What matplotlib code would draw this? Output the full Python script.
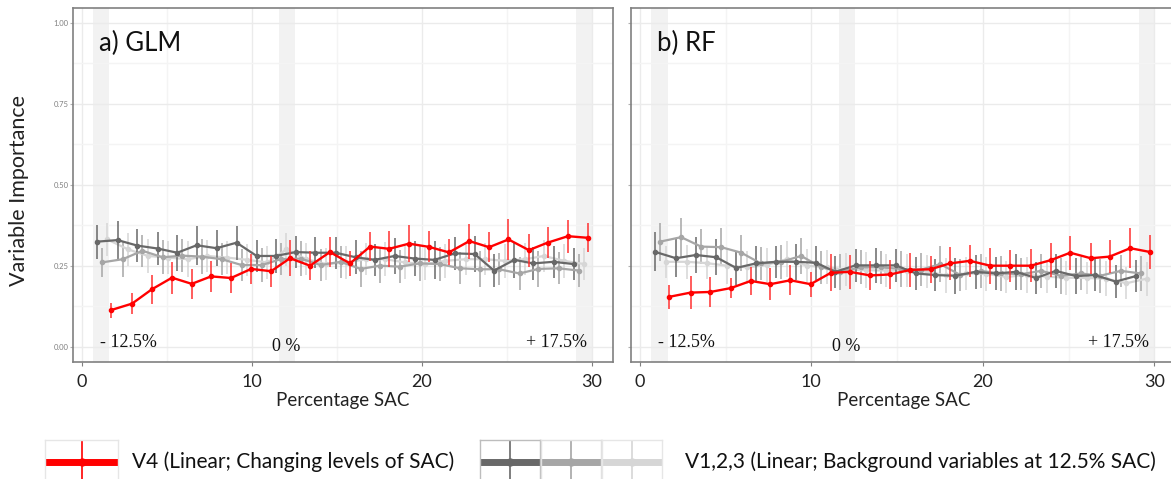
import matplotlib
matplotlib.use("Agg")
import matplotlib.pyplot as plt
import numpy as np

# SAC level of the changing variable (x of the red points)
sac = [1.72, 2.96, 4.12, 5.31, 6.47, 7.61, 8.78, 9.96, 11.14, 12.25, 13.43, 14.60, 15.78,
       16.96, 18.08, 19.25, 20.43, 21.60, 22.80, 23.96, 25.10, 26.30, 27.40, 28.60, 29.78]

# a) GLM
glm_v4 = [0.113, 0.133, 0.177, 0.213, 0.194, 0.217, 0.212, 0.240, 0.233, 0.273, 0.250, 0.292, 0.257,
          0.309, 0.302, 0.318, 0.308, 0.291, 0.326, 0.307, 0.331, 0.298, 0.321, 0.341, 0.336]
glm_v4_err = [0.023, 0.032, 0.044, 0.049, 0.046, 0.048, 0.045, 0.046, 0.048, 0.056, 0.045, 0.045, 0.039,
              0.045, 0.055, 0.058, 0.048, 0.040, 0.054, 0.047, 0.062, 0.051, 0.048, 0.051, 0.045]
glm_v1 = [0.324, 0.329, 0.312, 0.303, 0.290, 0.313, 0.304, 0.321, 0.280, 0.280, 0.292, 0.290, 0.290,
          0.276, 0.268, 0.280, 0.272, 0.268, 0.288, 0.286, 0.235, 0.268, 0.257, 0.262, 0.255]
glm_v2 = [0.260, 0.270, 0.296, 0.276, 0.281, 0.278, 0.270, 0.252, 0.252, 0.270, 0.272, 0.252, 0.262,
          0.240, 0.250, 0.247, 0.257, 0.255, 0.242, 0.239, 0.239, 0.226, 0.240, 0.242, 0.235]
glm_v3 = [0.331, 0.300, 0.280, 0.275, 0.270, 0.280, 0.275, 0.268, 0.260, 0.300, 0.270, 0.255, 0.260,
          0.270, 0.270, 0.260, 0.255, 0.265, 0.270, 0.270, 0.265, 0.270, 0.280, 0.265, 0.255]
glm_v1_err = [0.052, 0.058, 0.050, 0.052, 0.055, 0.060, 0.055, 0.052, 0.050, 0.052, 0.050, 0.048, 0.050,
              0.052, 0.050, 0.055, 0.055, 0.058, 0.050, 0.055, 0.050, 0.055, 0.052, 0.050, 0.050]
glm_v2_err = [0.045, 0.055, 0.050, 0.052, 0.050, 0.055, 0.050, 0.048, 0.052, 0.050, 0.055, 0.050, 0.050,
              0.055, 0.052, 0.050, 0.055, 0.052, 0.050, 0.055, 0.050, 0.052, 0.055, 0.050, 0.052]
glm_v3_err = [0.050, 0.050, 0.052, 0.050, 0.055, 0.050, 0.052, 0.050, 0.050, 0.052, 0.050, 0.050, 0.052,
              0.050, 0.052, 0.050, 0.050, 0.052, 0.050, 0.050, 0.052, 0.050, 0.050, 0.052, 0.050]

# b) RF
rf_v4 = [0.154, 0.167, 0.169, 0.181, 0.203, 0.193, 0.205, 0.193, 0.228, 0.231, 0.220, 0.223, 0.237,
         0.239, 0.257, 0.265, 0.250, 0.250, 0.250, 0.267, 0.290, 0.273, 0.278, 0.304, 0.292]
rf_v4_err = [0.037, 0.052, 0.046, 0.031, 0.044, 0.049, 0.046, 0.039, 0.057, 0.053, 0.046, 0.046, 0.052,
             0.042, 0.050, 0.050, 0.055, 0.049, 0.051, 0.052, 0.052, 0.048, 0.050, 0.061, 0.053]
rf_v1 = [0.293, 0.273, 0.283, 0.276, 0.243, 0.257, 0.262, 0.262, 0.259, 0.231, 0.251, 0.251, 0.251,
         0.226, 0.221, 0.219, 0.231, 0.226, 0.231, 0.212, 0.234, 0.218, 0.221, 0.201, 0.218]
rf_v2 = [0.324, 0.338, 0.309, 0.307, 0.290, 0.257, 0.262, 0.280, 0.245, 0.231, 0.245, 0.245, 0.240,
         0.238, 0.255, 0.221, 0.234, 0.226, 0.224, 0.234, 0.219, 0.226, 0.219, 0.234, 0.226]
rf_v3 = [0.262, 0.262, 0.258, 0.250, 0.245, 0.252, 0.270, 0.250, 0.245, 0.238, 0.236, 0.235, 0.235,
         0.232, 0.220, 0.226, 0.225, 0.215, 0.222, 0.216, 0.213, 0.212, 0.210, 0.196, 0.210]
rf_v1_err = [0.060, 0.058, 0.055, 0.055, 0.052, 0.055, 0.050, 0.055, 0.052, 0.050, 0.052, 0.055, 0.050,
             0.052, 0.050, 0.055, 0.052, 0.050, 0.055, 0.050, 0.052, 0.055, 0.050, 0.052, 0.050]
rf_v2_err = [0.058, 0.060, 0.055, 0.058, 0.055, 0.050, 0.052, 0.055, 0.050, 0.055, 0.052, 0.050, 0.055,
             0.052, 0.055, 0.050, 0.052, 0.055, 0.050, 0.052, 0.055, 0.050, 0.052, 0.050, 0.055]
rf_v3_err = [0.050, 0.052, 0.050, 0.055, 0.050, 0.052, 0.055, 0.050, 0.052, 0.050, 0.055, 0.050, 0.052,
             0.050, 0.055, 0.050, 0.052, 0.050, 0.055, 0.050, 0.052, 0.050, 0.055, 0.050, 0.052]

band_labels = ["- 12.5%", "0 %", "+ 17.5%"]
bands = [(0.68, 1.62), (11.6, 12.55), (29.1, 30.05)]

RED = "#ff0000"
GREYS = ["#686868", "#a6a6a6", "#d6d6d6"]
OFFS = [-0.85, -0.55, -0.22]   # dodge of the background variables

SANS = ["Lato", "DejaVu Sans"]
plt.rcParams["font.family"] = SANS

fig = plt.figure(figsize=(11.71, 4.79), dpi=100)


def panel(rect, title, v4, v4e, bg, bge, ylabels):
    ax = fig.add_axes(rect)
    ax.set_xlim(-0.53, 31.25)
    ax.set_ylim(-0.047, 1.044)
    ax.set_xticks([0, 10, 20, 30])
    ax.set_xticks([5, 15, 25], minor=True)
    ax.set_yticks([0, 0.25, 0.5, 0.75, 1.0])
    ax.set_yticks([0.125, 0.375, 0.625, 0.875], minor=True)
    ax.grid(True, which="major", color="#ebebeb", lw=1.0, zorder=0)
    ax.grid(True, which="minor", color="#f4f4f4", lw=1.0, zorder=0)
    ax.set_axisbelow(True)
    for s in ax.spines.values():
        s.set_color("#808080")
        s.set_linewidth(1.2)
    ax.tick_params(axis="x", which="major", length=3, color="#808080", labelsize=13,
                   labelcolor="#222222", pad=6)
    ax.tick_params(axis="y", which="major", length=2, color="#b0b0b0", labelsize=5.5,
                   labelcolor="#808080", pad=1)
    ax.tick_params(which="minor", length=0)
    if ylabels:
        ax.set_yticklabels(["0.00", "0.25", "0.50", "0.75", "1.00"])
    else:
        ax.set_yticklabels([])
    for lo, hi in bands:
        ax.axvspan(lo, hi, color="#f2f2f2", lw=0, zorder=0.5)

    x = np.array(sac)
    for i, (vals, errs, col, off) in enumerate(zip(bg, bge, GREYS, OFFS)):
        ax.errorbar(x + off, vals, yerr=errs, color=col, lw=1.6, elinewidth=1.1,
                    marker="o", ms=3.0, capsize=0, zorder=2 - i * 0.1)
    ax.errorbar(x, v4, yerr=v4e, color=RED, lw=1.7, elinewidth=1.1, ecolor="#ff3030",
                marker="o", ms=3.0, capsize=0, zorder=3)

    ax.text(1.05, 0.012, band_labels[0], family="Liberation Serif", fontsize=13,
            ha="left", va="center", color="#111111")
    ax.text(12.05, 0.0, band_labels[1], family="Liberation Serif", fontsize=13,
            ha="center", va="center", color="#111111")
    ax.text(29.7, 0.012, band_labels[2], family="Liberation Serif", fontsize=13,
            ha="right", va="center", color="#111111")
    ax.text(1.0, 0.935, title, fontsize=18.5, ha="left", va="center", color="#111111")
    ax.set_xlabel("Percentage SAC", fontsize=13.5, color="#222222", labelpad=1)
    return ax


ax1 = panel([0.0621, 0.2443, 0.4614, 0.7384], "a) GLM", glm_v4, glm_v4_err,
            [glm_v1, glm_v2, glm_v3], [glm_v1_err, glm_v2_err, glm_v3_err], True)
ax2 = panel([0.5386, 0.2443, 0.4654, 0.7384], "b) RF", rf_v4, rf_v4_err,
            [rf_v1, rf_v2, rf_v3], [rf_v1_err, rf_v2_err, rf_v3_err], False)

fig.text(0.016, 0.603, "Variable Importance", rotation=90, fontsize=15.5,
         ha="center", va="center", color="#222222")


# legend keys
def key(x0, x1, col, edge):
    W, H = 1171.0, 479.0
    k = fig.add_axes([x0 / W, (479 - 484) / H, (x1 - x0) / W, 44 / H])
    k.set_xlim(0, 1)
    k.set_ylim(0, 1)
    k.set_xticks([])
    k.set_yticks([])
    for s in k.spines.values():
        s.set_color(edge)
        s.set_linewidth(1.0)
    k.plot([0, 1], [0.5, 0.5], color=col, lw=5, solid_capstyle="butt")
    k.plot([0.5, 0.5], [0, 1], color=col, lw=1.2)
    k.plot([0.5], [0.5], "o", color=col, ms=5)


key(45, 118, RED, "#e6e6e6")
key(480, 540, GREYS[0], "#bdbdbd")
key(541, 601, GREYS[1], "#e0e0e0")
key(602, 662, GREYS[2], "#e6e6e6")

fig.text(132 / 1171, 1 - 462 / 479, "V4 (Linear; Changing levels of SAC)", fontsize=15,
         ha="left", va="center", color="#111111")
fig.text(685 / 1171, 1 - 462 / 479, "V1,2,3 (Linear; Background variables at 12.5% SAC)",
         fontsize=15, ha="left", va="center", color="#111111")

fig.savefig("out.png", dpi=100)
